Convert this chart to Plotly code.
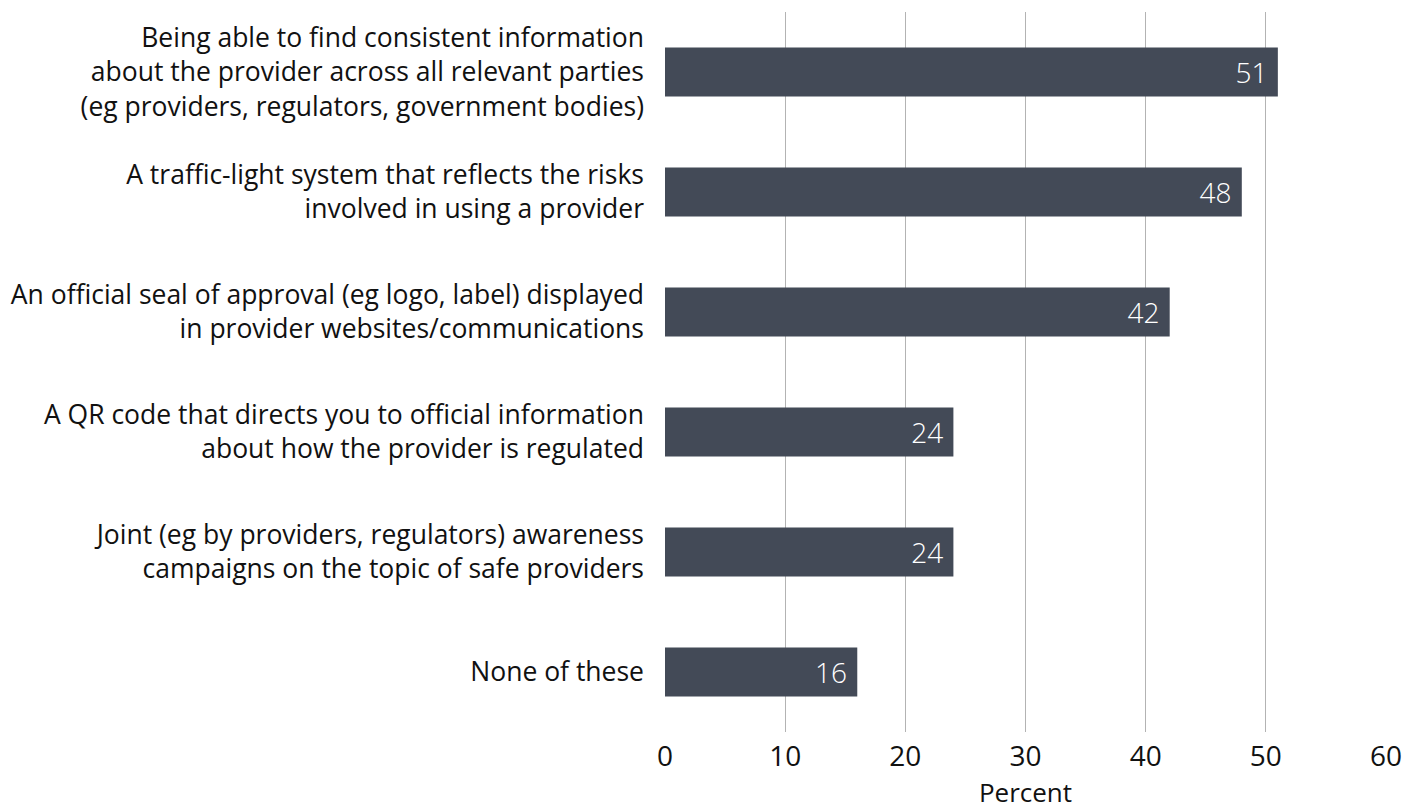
import plotly.graph_objects as go

categories = [
    "Being able to find consistent information<br>about the provider across all relevant parties<br>(eg providers, regulators, government bodies)",
    "A traffic-light system that reflects the risks<br>involved in using a provider",
    "An official seal of approval (eg logo, label) displayed<br>in provider websites/communications",
    "A QR code that directs you to official information<br>about how the provider is regulated",
    "Joint (eg by providers, regulators) awareness<br>campaigns on the topic of safe providers",
    "None of these",
]
values = [51, 48, 42, 24, 24, 16]
x_ticks = [0, 10, 20, 30, 40, 50, 60]

bar_color = "#434a57"
font_family = "Open Sans"
text_color = "#111111"

fig = go.Figure(
    go.Bar(
        x=values,
        y=categories,
        orientation="h",
        marker=dict(color=bar_color, line=dict(width=0)),
        width=0.41,
        text=[f"{v} " for v in values],
        textposition="inside",
        insidetextanchor="end",
        textfont=dict(family=font_family, size=28, color="white", weight=300),
        cliponaxis=False,
        hoverinfo="skip",
    )
)

fig.update_layout(
    width=1419,
    height=810,
    margin=dict(l=665, r=33, t=12, b=78),
    paper_bgcolor="white",
    plot_bgcolor="white",
    showlegend=False,
    font=dict(family=font_family, color=text_color),
    xaxis=dict(
        range=[0, 60],
        tickvals=x_ticks,
        ticktext=[str(t) for t in x_ticks],
        showgrid=True,
        gridcolor="#b3b3b3",
        gridwidth=1,
        zeroline=False,
        showline=False,
        ticks="",
        automargin=False,
        ticklabelstandoff=5,
        tickfont=dict(size=28, color=text_color),
        title=dict(text="Percent", font=dict(size=26, color=text_color), standoff=12),
        fixedrange=True,
    ),
    yaxis=dict(
        autorange="reversed",
        showgrid=False,
        zeroline=False,
        showline=False,
        ticks="",
        automargin=False,
        ticklabelstandoff=20,
        tickfont=dict(size=26.5, color=text_color),
        fixedrange=True,
    ),
)

fig.write_html("out.html")
